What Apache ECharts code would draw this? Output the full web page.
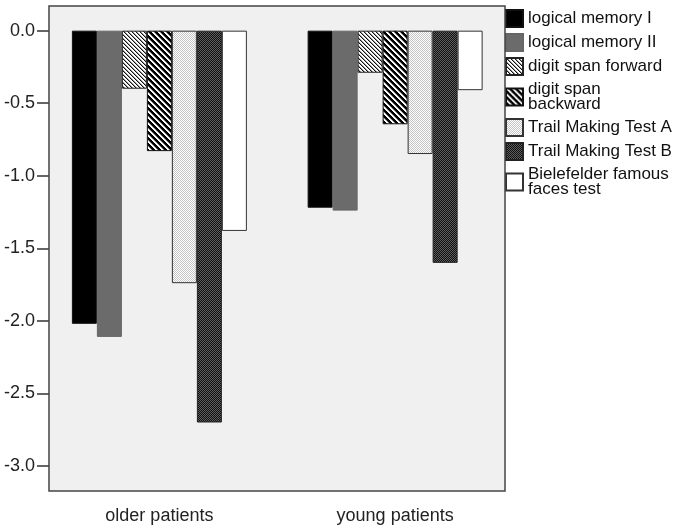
<!DOCTYPE html>
<html>
<head>
<meta charset="utf-8">
<script src="https://cdn.jsdelivr.net/npm/echarts@6/dist/echarts.min.js"></script>
<style>
html,body{margin:0;padding:0;background:#fff;}
#chart{width:686px;height:531px;}
</style>
</head>
<body>
<div id="chart"></div>
<script>
// ---- data ----
const categories = ['older patients', 'young patients'];
const seriesNames = ['logical memory I', 'logical memory II', 'digit span forward', 'digit span backward', 'Trail Making Test A', 'Trail Making Test B', 'Bielefelder famous faces test'];
const logicalMemoryI = [-2.02, -1.22];
const logicalMemoryII = [-2.11, -1.24];
const digitSpanForward = [-0.40, -0.29];
const digitSpanBackward = [-0.83, -0.645];
const trailMakingA = [-1.74, -0.85];
const trailMakingB = [-2.70, -1.60];
const bielefelder = [-1.38, -0.41];
const yTicks = [0, -0.5, -1.0, -1.5, -2.0, -2.5, -3.0];
const legendLabels = {
  'digit span backward': 'digit span\nbackward',
  'Bielefelder famous faces test': 'Bielefelder famous\nfaces test'
};

// ---- patterns ----
function pat(w, h, bg, rules) {
  const c = document.createElement('canvas');
  c.width = w; c.height = h;
  const g = c.getContext('2d');
  g.fillStyle = bg; g.fillRect(0, 0, w, h);
  for (let y = 0; y < h; y++) for (let x = 0; x < w; x++) {
    const col = rules(x, y);
    if (col) { g.fillStyle = col; g.fillRect(x, y, 1, 1); }
  }
  return { image: c, repeat: 'repeat' };
}
const fills = [
  '#000000',
  '#6b6b6b',
  pat(4, 4, '#ffffff', (x, y) => { const d = ((x - y) % 4 + 4) % 4; return d === 0 ? '#111' : (d === 1 ? '#999' : null); }),
  pat(6, 6, '#000000', (x, y) => { const d = ((x - y) % 6 + 6) % 6; return d < 2 ? '#ffffff' : (d === 2 ? '#888' : null); }),
  pat(2, 2, '#ffffff', (x, y) => ((x + y) % 2 === 0 ? '#c4c4c4' : null)),
  pat(2, 2, '#111111', (x, y) => ((x + y) % 2 === 0 ? '#5e5e5e' : null)),
  '#ffffff'
];
const borders = ['#111', '#666', '#222', '#111', '#333', '#222', '#333'];
const values = [logicalMemoryI, logicalMemoryII, digitSpanForward, digitSpanBackward, trailMakingA, trailMakingB, bielefelder];

const FONT = 'Arial, "Liberation Sans", sans-serif';
const chart = echarts.init(document.getElementById('chart'), null, { renderer: 'canvas' });

const series = seriesNames.map((name, i) => ({
  name: name,
  type: 'bar',
  data: values[i],
  barWidth: 25,
  barGap: '0%',
  z: 3,
  itemStyle: { color: fills[i], borderColor: borders[i], borderWidth: 1 },
  emphasis: { disabled: true }
}));

chart.setOption({
  animation: false,
  backgroundColor: '#ffffff',
  graphic: [
    { type: 'rect', z: 0, shape: { x: 49, y: 6, width: 456, height: 485 }, style: { fill: '#f0f0f0', stroke: 'none' } },
    { type: 'rect', z: 10, shape: { x: 49, y: 6, width: 456, height: 485 }, style: { fill: 'none', stroke: '#444', lineWidth: 1.5 } }
  ],
  grid: { left: 41.5, right: 173, top: 5.7, bottom: 40, containLabel: false },
  legend: {
    orient: 'vertical',
    left: 505,
    top: 9,
    padding: 0,
    itemWidth: 17,
    itemHeight: 17,
    itemGap: 5,
    icon: 'rect',
    selectedMode: false,
    data: seriesNames,
    formatter: n => legendLabels[n] || n,
    textStyle: { fontSize: 17, fontFamily: FONT, color: '#111', lineHeight: 15 }
  },
  xAxis: {
    type: 'category',
    data: categories,
    axisLine: { show: false },
    axisTick: { show: true, alignWithLabel: true, length: 11, lineStyle: { color: '#333', width: 1.5 } },
    axisLabel: { fontSize: 18, fontFamily: FONT, color: '#222', margin: 16 }
  },
  yAxis: {
    type: 'value',
    min: -3.172,
    max: 0.172,
    offset: -7.5,
    splitLine: { show: false },
    axisLine: { show: false },
    axisTick: { show: true, length: 12, customValues: yTicks, lineStyle: { color: '#333', width: 1.5 } },
    axisLabel: { customValues: yTicks, fontSize: 18, fontFamily: FONT, color: '#222', margin: 14, formatter: v => v.toFixed(1) }
  },
  series: series
});
</script>
</body>
</html>
